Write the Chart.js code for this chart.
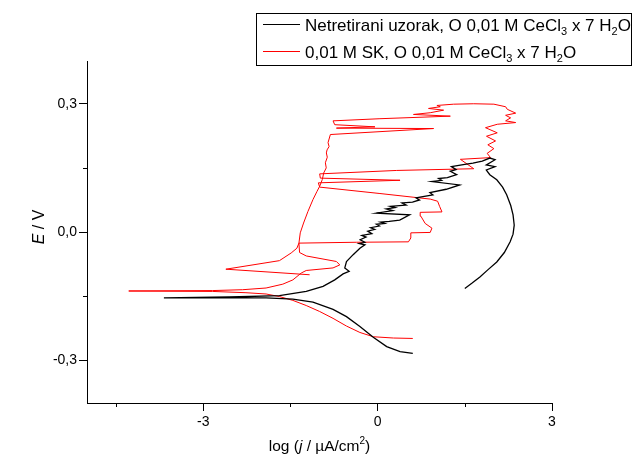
<!DOCTYPE html>
<html>
<head>
<meta charset="utf-8">
<script src="https://cdn.jsdelivr.net/npm/chart.js@4.4.1/dist/chart.umd.min.js"></script>
<style>
  html, body { margin: 0; padding: 0; background: #fff; }
  #wrap { position: relative; width: 633px; height: 460px; }
</style>
</head>
<body>
<div id="wrap"><canvas id="chart" width="633" height="460"></canvas></div>
<script>
// netretirani uzorak (crna krivulja): log j i E
const blackLogJ = [0.605, 0.386, 0.156, -0.075, -0.305, -0.536, -0.767, -1.112, -1.458, -1.919, -2.841, -3.677,
    -2.553, -1.689, -1.228, -0.939, -0.738, -0.594, -0.490, -0.565, -0.536, -0.421, -0.305, -0.219, -0.317,
    -0.22, -0.30, -0.20, -0.27, -0.10, -0.17, -0.05, -0.12, 0.03, -0.02, 0.12, 0.05, 0.20, 0.38, 0.55, -0.02,
    0.26, 0.15, 0.30, 0.22, 0.49, 0.42, 0.60, 0.72, 0.66, 0.95, 0.90, 1.18, 1.41, 0.93, 1.10, 1.05, 1.20, 1.36,
    1.25, 1.35, 1.27, 1.50, 1.64, 1.80, 1.93, 2.02,
    1.87, 2.02, 1.87, 1.93, 2.05, 2.15, 2.22, 2.29, 2.33, 2.35, 2.33, 2.28, 2.18, 2.05, 1.90, 1.76, 1.62, 1.50];
const blackE = [-0.284, -0.280, -0.268, -0.246, -0.221, -0.198, -0.181, -0.164, -0.157, -0.154, -0.154, -0.154,
    -0.152, -0.149, -0.139, -0.127, -0.112, -0.098, -0.092, -0.084, -0.069, -0.053, -0.038, -0.030, -0.027,
    -0.024, -0.018, -0.012, -0.008, -0.004, 0.002, 0.006, 0.010, 0.014, 0.018, 0.020, 0.023, 0.025, 0.028, 0.040, 0.044,
    0.050, 0.054, 0.057, 0.060, 0.063, 0.068, 0.070, 0.075, 0.080, 0.087, 0.092, 0.100, 0.110, 0.118, 0.121, 0.125, 0.127, 0.134,
    0.142, 0.146, 0.153, 0.158, 0.161, 0.166, 0.173, 0.169,
    0.157, 0.153, 0.145, 0.134, 0.122, 0.105, 0.087, 0.062, 0.040, 0.016, -0.005, -0.023, -0.048, -0.070, -0.088, -0.105, -0.120, -0.132];

// 0,01 M SK (crvena krivulja)
const redLogJ = [0.605, 0.271, -0.075, -0.305, -0.536, -0.767, -0.997, -1.228, -1.458, -1.689, -1.919, -2.265, -2.841, -4.282,
    -2.841, -2.323, -1.919, -1.631, -1.458, -1.314, -1.228, -0.767, -0.651, -0.709, -1.228, -1.343, -1.354,
    -0.363, 0.530, 0.571, 0.571, 0.905, 0.934, 0.818, 0.744, 0.732, 1.107, 1.066, 1.032, 0.905, 0.040, -0.997, -1.020,
    0.386, -0.986, -0.997, 0.329, 1.654, 1.424, 1.942,
    1.885, 2.000, 1.896, 2.029, 1.873, 2.058, 1.856, 2.058, 2.375, 2.202, 2.288, 2.202, 2.375, 2.231, 2.202, 2.000,
    1.654, 1.308, 1.020, 1.078, 0.876, 1.135, 0.905, 0.617, 1.251,
    0.040, -0.767, -0.738, -0.046, -0.709, 0.963, -0.813,
    -0.853, -0.835, -0.870, -0.882, -0.866, -0.899, -0.884, -0.928, -0.951, -0.997, -1.043, -1.112, -1.199, -1.274,
    -1.331, -1.354, -1.389, -1.487, -1.689, -2.611, -1.170];
const redE = [-0.249, -0.248, -0.245, -0.235, -0.220, -0.202, -0.186, -0.172, -0.160, -0.151, -0.145, -0.142, -0.139, -0.138,
    -0.137, -0.135, -0.131, -0.122, -0.112, -0.096, -0.090, -0.084, -0.077, -0.069, -0.056, -0.048, -0.026,
    -0.024, -0.023, -0.014, -0.002, -0.001, 0.009, 0.020, 0.037, 0.046, 0.047, 0.060, 0.072, 0.077, 0.090, 0.105, 0.115,
    0.121, 0.126, 0.136, 0.144, 0.148, 0.170, 0.174,
    0.184, 0.195, 0.204, 0.213, 0.224, 0.232, 0.244, 0.252, 0.256, 0.260, 0.267, 0.273, 0.278, 0.287, 0.293, 0.299,
    0.300, 0.299, 0.296, 0.293, 0.289, 0.285, 0.279, 0.275, 0.271,
    0.265, 0.260, 0.251, 0.246, 0.243, 0.242, 0.228,
    0.209, 0.200, 0.192, 0.185, 0.175, 0.162, 0.150, 0.138, 0.123, 0.107, 0.095, 0.076, 0.048, 0.021,
    -0.002, -0.026, -0.038, -0.049, -0.067, -0.087, -0.100];

const xMajorTicks = [-3, 0, 3];
const xTickLabels = ['-3', '0', '3'];
const xMinorTicks = [-4.5, -1.5, 1.5];
const yMajorTicks = [-0.3, 0, 0.3];
const yTickLabels = ['-0,3', '0,0', '0,3'];
const yMinorTicks = [-0.15, 0.15];

// tekstovi s indeksima: [tekst, stil]
const legendBlack = [['Netretirani uzorak, O 0,01 M CeCl', ''], ['3', 'sub'], [' x 7 H', ''], ['2', 'sub'], ['O', '']];
const legendRed = [['0,01 M SK, O 0,01 M CeCl', ''], ['3', 'sub'], [' x 7 H', ''], ['2', 'sub'], ['O', '']];
const xTitle = [['log (', ''], ['j', 'i'], [' / \u00b5A/cm', ''], ['2', 'sup'], [')', '']];
const yTitle = [['E', 'i'], [' / V', '']];

const FAM = '"Liberation Sans", Arial, sans-serif';
Chart.defaults.font.family = FAM;
Chart.defaults.color = '#000';

function toPoints(xs, ys) {
    return xs.map((x, i) => ({ x: x, y: ys[i] }));
}

function findLabel(list, labels, v) {
    const i = list.findIndex(t => Math.abs(t - v) < 1e-6);
    return i >= 0 ? labels[i] : '';
}

function drawRich(ctx, parts, x, y, size, align) {
    const fontFor = s => (s === 'i' ? 'italic ' : '') +
        ((s === 'sub' || s === 'sup') ? Math.round(size * 0.62) : size) + 'px ' + FAM;
    let w = 0;
    parts.forEach(([t, s]) => { ctx.font = fontFor(s); w += ctx.measureText(t).width; });
    let cx = align === 'center' ? x - w / 2 : x;
    ctx.textAlign = 'left';
    ctx.textBaseline = 'alphabetic';
    ctx.fillStyle = '#000';
    parts.forEach(([t, s]) => {
        ctx.font = fontFor(s);
        const dy = s === 'sub' ? size * 0.28 : (s === 'sup' ? -size * 0.42 : 0);
        ctx.fillText(t, cx, y + dy);
        cx += ctx.measureText(t).width;
    });
}

const decor = {
    id: 'decor',
    afterDraw(chart) {
        const ctx = chart.ctx;
        const xs = chart.scales.x, ys = chart.scales.y;
        const area = chart.chartArea;
        ctx.save();
        // sporedne oznake
        ctx.strokeStyle = '#000';
        ctx.lineWidth = 1;
        ctx.beginPath();
        xMinorTicks.forEach(v => {
            const px = Math.round(xs.getPixelForValue(v)) + 0.5;
            ctx.moveTo(px, area.bottom);
            ctx.lineTo(px, area.bottom + 4);
        });
        yMinorTicks.forEach(v => {
            const py = Math.round(ys.getPixelForValue(v)) + 0.5;
            ctx.moveTo(area.left - 4, py);
            ctx.lineTo(area.left, py);
        });
        ctx.stroke();

        // naslovi osi
        drawRich(ctx, xTitle, (area.left + area.right) / 2, 451, 15.5, 'center');
        ctx.save();
        ctx.translate(38, 227);
        ctx.rotate(-Math.PI / 2);
        drawRich(ctx, yTitle, 0, 5.5, 16, 'center');
        ctx.restore();

        // legenda
        ctx.fillStyle = '#fff';
        ctx.fillRect(256, 13, 376, 52);
        ctx.strokeStyle = '#000';
        ctx.strokeRect(256.5, 13.5, 375, 52);
        const items = [[legendBlack, '#000', 24], [legendRed, '#ff0000', 51]];
        items.forEach(([parts, col, ly]) => {
            ctx.strokeStyle = col;
            ctx.beginPath();
            ctx.moveTo(263, ly + 0.5);
            ctx.lineTo(300, ly + 0.5);
            ctx.stroke();
            drawRich(ctx, parts, 305, ly + 6.5, 17, 'left');
        });
        ctx.restore();
    }
};

new Chart(document.getElementById('chart').getContext('2d'), {
    type: 'scatter',
    data: {
        datasets: [
            {
                label: 'Netretirani uzorak, O 0,01 M CeCl3 x 7 H2O',
                data: toPoints(blackLogJ, blackE),
                showLine: true,
                borderColor: '#000',
                borderWidth: 1.3,
                pointRadius: 0,
                tension: 0,
                fill: false
            },
            {
                label: '0,01 M SK, O 0,01 M CeCl3 x 7 H2O',
                data: toPoints(redLogJ, redE),
                showLine: true,
                borderColor: '#ff0000',
                borderWidth: 1,
                pointRadius: 0,
                tension: 0,
                fill: false
            }
        ]
    },
    options: {
        responsive: false,
        animation: false,
        devicePixelRatio: 1,
        layout: { padding: { top: 61, right: 81, left: 0, bottom: 0 } },
        plugins: { legend: { display: false }, tooltip: { enabled: false } },
        scales: {
            x: {
                type: 'linear',
                min: -5,
                max: 3,
                ticks: {
                    stepSize: 1.5,
                    includeBounds: false,
                    autoSkip: false,
                    maxRotation: 0,
                    padding: 3,
                    font: { size: 14 },
                    callback: v => findLabel(xMajorTicks, xTickLabels, v)
                },
                grid: {
                    drawOnChartArea: false,
                    drawTicks: true,
                    tickLength: 8,
                    tickColor: c => findLabel(xMajorTicks, xTickLabels, c.tick.value) ? '#000' : 'rgba(0,0,0,0)'
                },
                border: { display: true, color: '#000', width: 1 },
                afterFit: s => { s.height = 57; }
            },
            y: {
                type: 'linear',
                min: -0.4,
                max: 0.4,
                ticks: {
                    stepSize: 0.15,
                    includeBounds: false,
                    autoSkip: false,
                    padding: 2,
                    font: { size: 14 },
                    callback: v => findLabel(yMajorTicks, yTickLabels, v)
                },
                grid: {
                    drawOnChartArea: false,
                    drawTicks: true,
                    tickLength: 8,
                    tickColor: c => findLabel(yMajorTicks, yTickLabels, c.tick.value) ? '#000' : 'rgba(0,0,0,0)'
                },
                border: { display: true, color: '#000', width: 1 },
                afterFit: s => { s.width = 87; }
            }
        }
    },
    plugins: [decor]
});
</script>
</body>
</html>
